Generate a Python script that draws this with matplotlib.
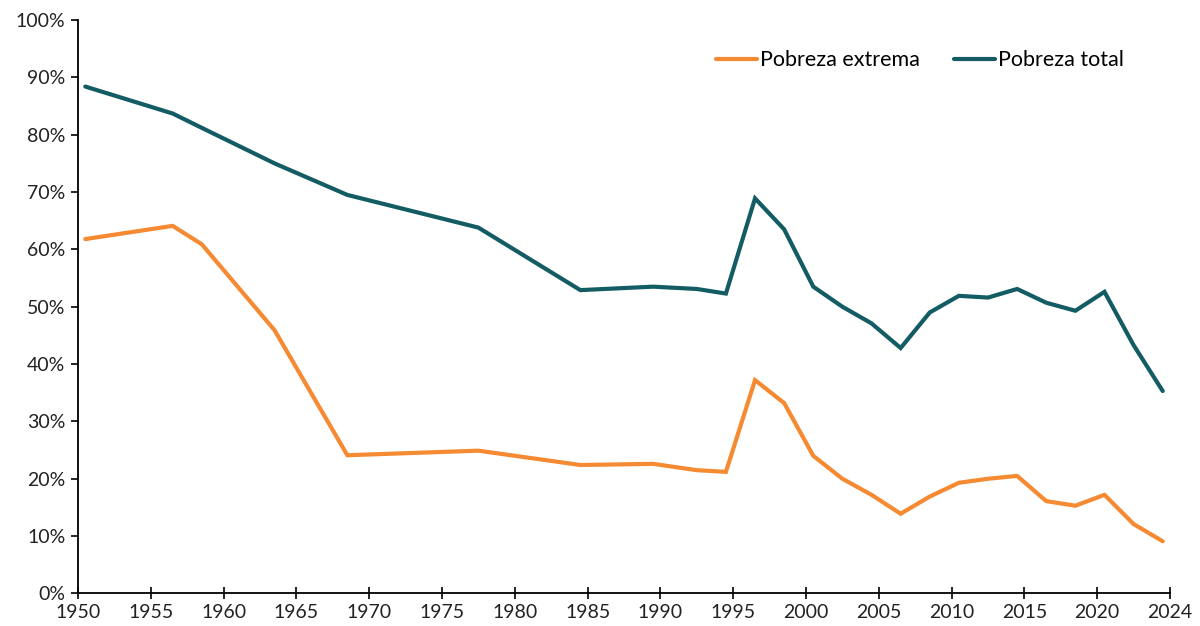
import matplotlib.pyplot as plt
from matplotlib.ticker import FuncFormatter

# survey years (plotted at mid-year)
years = [1950, 1956, 1958, 1963, 1968, 1977, 1984, 1989, 1992, 1994, 1996, 1998,
         2000, 2002, 2004, 2006, 2008, 2010, 2012, 2014, 2016, 2018, 2020, 2022, 2024]
pobreza_extrema = [61.8, 64.1, 60.9, 45.9, 24.1, 24.9, 22.4, 22.6, 21.5, 21.2, 37.2, 33.2,
                   24.0, 20.0, 17.2, 13.9, 16.9, 19.3, 20.0, 20.5, 16.1, 15.3, 17.2, 12.1, 9.1]
pobreza_total = [88.4, 83.7, 81.2, 75.0, 69.5, 63.8, 52.9, 53.5, 53.1, 52.3, 68.9, 63.5,
                 53.5, 50.0, 47.1, 42.8, 49.0, 51.9, 51.6, 53.1, 50.7, 49.3, 52.6, 43.3, 35.3]
tick_years = [1950, 1955, 1960, 1965, 1970, 1975, 1980, 1985, 1990, 1995, 2000, 2005,
              2010, 2015, 2020, 2025]
tick_labels = ["1950", "1955", "1960", "1965", "1970", "1975", "1980", "1985", "1990",
               "1995", "2000", "2005", "2010", "2015", "2020", "2024"]

plt.rcParams['font.family'] = ['Lato', 'DejaVu Sans']

fig = plt.figure(figsize=(12, 6.26), dpi=100)
ax = fig.add_axes([0.065, 0.052, 0.91, 0.916])

x = [y + 0.5 for y in years]
ax.plot(x, pobreza_extrema, color='#F58A32', lw=3, solid_joinstyle='miter',
        solid_capstyle='round', label='Pobreza extrema')
ax.plot(x, pobreza_total, color='#145C63', lw=3, solid_joinstyle='miter',
        solid_capstyle='round', label='Pobreza total')

ax.set_xlim(1950, 2025)
ax.set_ylim(0, 100)
ax.set_xticks(tick_years)
ax.set_xticklabels(tick_labels)
ax.set_yticks(range(0, 101, 10))
ax.yaxis.set_major_formatter(FuncFormatter(lambda v, p: f"{int(v)}%"))

for s in ['top', 'right']:
    ax.spines[s].set_visible(False)
for s in ['left', 'bottom']:
    ax.spines[s].set_linewidth(1.3)
    ax.spines[s].set_color('black')

ax.tick_params(axis='x', direction='inout', length=9, width=1.2, labelsize=14,
               pad=3, colors='black', labelcolor='#222222')
ax.tick_params(axis='y', direction='out', length=5, width=1.2, labelsize=14,
               pad=4, colors='black', labelcolor='#222222')

ax.legend(loc='center', bbox_to_anchor=(0.771, 0.93), ncol=2, frameon=False,
          fontsize=15.5, handlelength=1.9, handletextpad=0.15, columnspacing=1.6)

fig.savefig('out.png', dpi=100)
